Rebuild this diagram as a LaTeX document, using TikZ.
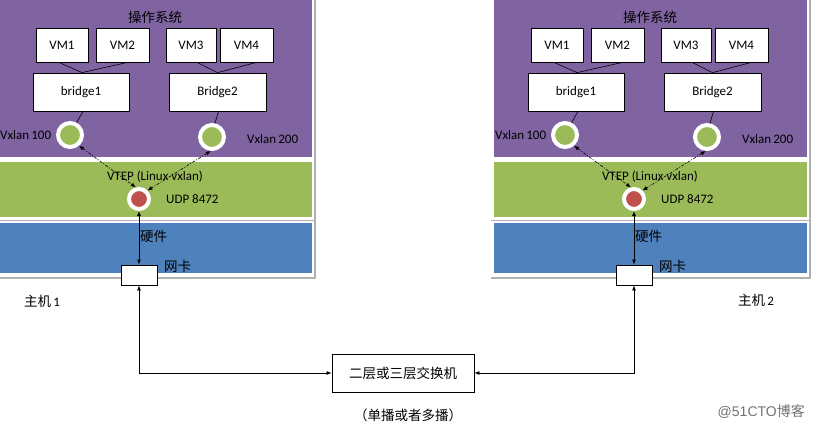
\documentclass[tikz,border=0pt]{standalone}
\usepackage{fontspec}
\setmainfont{Carlito}
\newfontfamily\cjk{Noto Sans CJK SC}
\newfontfamily\wmfont{Liberation Sans}
\usetikzlibrary{arrows.meta}
\definecolor{osp}{HTML}{8064A2}
\definecolor{vtg}{HTML}{9BBB59}
\definecolor{hwb}{HTML}{4F81BD}
\definecolor{vxr}{HTML}{C0504D}
\definecolor{frm}{HTML}{B0B0B0}
\tikzset{
  lat/.style={font=\fontsize{13}{15}\selectfont, inner sep=0pt},
  cjkt/.style={font=\cjk\fontsize{13.5}{15}\selectfont, inner sep=0pt},
  wbox/.style={draw, fill=white, line width=0.8pt, lat},
  vmbox/.style={wbox, minimum height=34pt},
  brbox/.style={wbox, minimum height=38pt},
  gdot/.style={circle, fill=vtg, draw=white, line width=4pt, minimum size=24pt, inner sep=0pt},
  rdot/.style={circle, fill=vxr, draw=white, line width=4pt, minimum size=20pt, inner sep=0pt},
  thin/.style={line width=0.6pt},
  dda/.style={line width=0.6pt, dash pattern=on 3pt off 1.5pt on 1pt off 1.5pt, {Latex[length=5pt,width=4pt]}-{Latex[length=5pt,width=4pt]}},
  sda/.style={line width=0.8pt, {Latex[length=5pt,width=4pt]}-{Latex[length=5pt,width=4pt]}},
  frline/.style={draw=frm, line width=1.2pt}
}
\begin{document}
\begin{tikzpicture}[x=1pt,y=-1pt]
\useasboundingbox (0,0) rectangle (814,431);
\fill[white] (0,0) rectangle (814,431);
\foreach \h/\dx/\lx in {L/0/0, R/495/-1}{
  \begin{scope}[xshift=\dx pt]
    % bands
    \fill[osp] (\lx,0) rectangle (312,157);
    \fill[vtg] (\lx,162) rectangle (312,217);
    \fill[hwb] (\lx,223) rectangle (312,273);
    \draw[frline] (\lx-3,220.5) -- (315,220.5);
    \draw[frline] (\lx-3,278) -- (315,278);
    \draw[frline] (315,0) -- (315,278.6);
    % OS text
    \node[cjkt] (\h os) at (155,17) {操作系统};
    \node[vmbox, minimum width=52pt] (\h vm1) at (62,45) {VM1};
    \node[vmbox, minimum width=53pt] (\h vm2) at (122.5,45) {VM2};
    \node[vmbox, minimum width=50pt] (\h vm3) at (191,45) {VM3};
    \node[vmbox, minimum width=53pt] (\h vm4) at (246.5,45) {VM4};
    \node[brbox, minimum width=96pt] (\h b1) at (81,92) {bridge1};
    \node[brbox, minimum width=97pt] (\h b2) at (217.5,92) {Bridge2};
    \draw[thin] ([xshift=-3pt]\h vm1.south) -- ([xshift=1pt]\h b1.north);
    \draw[thin] ([xshift=5pt]\h vm2.south) -- ([xshift=1pt]\h b1.north);
    \draw[thin] ([xshift=6pt]\h vm3.south) -- (\h b2.north);
    \draw[thin] ([xshift=10pt]\h vm4.south) -- (\h b2.north);
    \node[gdot] (\h c1) at (70,135) {};
    \node[gdot] (\h c2) at (212,137) {};
    \draw[thin] ([xshift=2pt]\h b1.south) -- (\h c1.62);
    \draw[thin] ([xshift=1pt]\h b2.south) -- (\h c2.78);
    \node[lat, anchor=west] (\h v1) at (0,135) {Vxlan\,100};
    \node[lat, anchor=west] (\h v2) at (247,139) {Vxlan\,200};
    % VTEP
    \node[lat] (\h vtep) at (155,177) {VTEP (Linux vxlan)};
    \node[rdot] (\h vt) at (139,199) {};
    \node[lat, anchor=west] (\h udp) at (166,199) {UDP 8472};
    \draw[dda] (\h c1.310) -- (\h vt.105);
    \draw[dda] (\h c2.265) -- (\h vt.45);
    % hardware
    \node[draw, fill=white, line width=0.8pt, minimum width=36pt, minimum height=20pt, inner sep=0pt] (\h nic) at (139,275) {};
    \draw[sda] (\h vt.south) -- (\h nic.north);
    \node[cjkt, anchor=west] (\h hw) at (140,236) {硬件};
    \node[cjkt, anchor=west] (\h nk) at (164,266) {网卡};
  \end{scope}
}
\node[cjkt, anchor=west] (host1) at (24,301) {主机\,{\rmfamily\fontsize{13}{14}\selectfont 1}};
\node[cjkt, anchor=west] (host2) at (738,300) {主机\,{\rmfamily\fontsize{13}{14}\selectfont 2}};
% switch
\node[draw, line width=0.8pt, minimum width=142pt, minimum height=38pt, inner sep=0pt, cjkt] (sw) at (403,373) {二层或三层交换机\hspace{10pt}};
\node[cjkt] (cast) at (408,415) {（单播或者多播）};
\draw[sda] (Lnic.south) |- (sw.west);
\draw[sda] (Rnic.south) |- (sw.east);
\node[font=\wmfont\fontsize{14}{16}\selectfont, text=black!55, inner sep=0pt, anchor=east] (wm) at (805,412) {@51CTO{\cjk 博客}};
\end{tikzpicture}
\end{document}
